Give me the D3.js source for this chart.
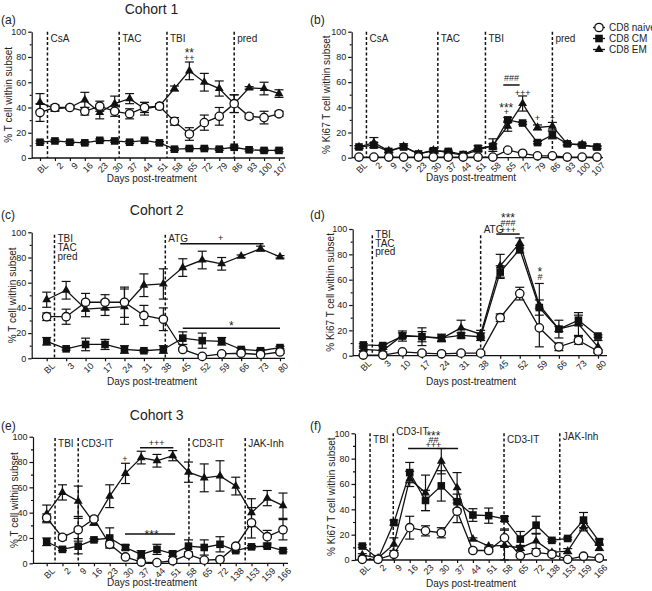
<!DOCTYPE html>
<html><head><meta charset="utf-8">
<script src="https://cdn.jsdelivr.net/npm/d3@7"></script>
<style>
body{margin:0;background:#fff}
text{font-family:"Liberation Sans",Arial,sans-serif;fill:#222}
</style>
</head><body>
<svg id="chart" width="652" height="591"></svg>
<script>
// ---------- DATA ----------
const catsCohort1 = ["BL","2","9","16","23","30","37","44","51","58","65","72","79","86","93","100","107"];
const catsCohort2 = ["BL","3","10","17","24","31","38","45","52","59","66","73","80"];
const catsCohort3 = ["BL","2","9","16","23","30","37","44","51","58","65","72","138","153","159","166"];
const seriesNames = ["CD8 naive","CD8 CM","CD8 EM"];

// (a) Cohort 1, % T cell
const naiveA    = [36,40,40,37,41,37,35,40,41,29,19,28,33,43,33,32,35];
const naiveErrA = [7,2,1,3,4,4,4,4,2,3,5,6,7,7,2,5,2];
const cmA       = [12.5,13.5,12.5,12,14,13.5,12.5,14,12,7,7.5,7.5,7,8.5,6.5,6,6];
const cmErrA    = [1,1,1,1,1,1,1,1,1,1,1,1,1,1,1,1,1];
const emA       = [44,39,40,46,36,43,47,39,41,55,69,60,55,43,55.5,55,51];
const emErrA    = [7,2,1,6,5,6,4,5,2,2,7,7,6,7,1,5,3];

// (b) Cohort 1, % Ki67
const naiveB    = [0.5,0.5,0.5,0.5,0.5,0.5,0.5,0.5,0.5,0.5,6,3.5,1.5,1.5,0.5,0.5,0.5];
const naiveErrB = [0.5,0.5,0.5,0.5,0.5,0.5,0.5,0.5,0.5,0.5,1,1,1,1,0.5,0.5,0.5];
const cmB       = [8.5,10,5,8.5,3,5.5,5,2.5,7.5,9,30,27.5,12,18,11,10,8.5];
const cmErrB    = [1,2,1,1,1,1,1,1,2,2,2,1,1,3,1,1,1];
const emB       = [8.5,12,5.5,9,3,6,4,2,6,10,25,43,24,25,11,10.5,8];
const emErrB    = [1,4,1,2,1,1,1,1,1,5,4,6,2,3,1,1,1];

// (c) Cohort 2, % T cell
const naiveC    = [33,33,44.5,44.5,44.5,34,31,7,1.5,3.5,4,3,5];
const naiveErrC = [3,6,7,6,12,8,9,1,1,1,1,1,1];
const cmC       = [13.5,7.5,11,11,7,6,7,16,14,13.5,7,6,8.5];
const cmErrC    = [3,1,5,4,3,1,3,5,6,3,1,1,1];
const emC       = [46.5,54,39,40,41,58,59,72,78,75,81,87,80.5];
const emErrC    = [6,7,6,6,14,9,12,7,7,5,1,2,1];

// (d) Cohort 2, % Ki67
const naiveD    = [0.5,0.5,3,2,1.5,2,2,30,49,22,7,12,3.5];
const naiveErrD = [0.5,0.5,1,1,1,1,1,3,5,15,3,3,1];
const cmD       = [8.5,8,15.5,15,14,16,15,66,84,38,21,28,15.5];
const cmErrD    = [1,1,4,7,3,2,3,5,3,6,7,4,1];
const emD       = [5,4,16,15,13.5,22,17,71,89,40,21,25,7];
const emErrD    = [1,1,2,4,2,6,3,9,4,17,2,9,5];

// (e) Cohort 3, % T cell
const naiveE    = [36,20.5,26.5,35,15,5,1,0.5,2,7,2.5,3,13.5,32,21,26.5];
const naiveErrE = [3,2,9,1,2,1,1,1,1,2,1,1,1,12,5,8];
const cmE       = [17,11,13.5,18.5,20,12.5,7,11,7.5,13.5,12.5,15,10,13,13.5,10];
const cmErrE    = [3,1,6,1,8,2,3,4,2,5,6,6,1,1,1,1];
const emE       = [39,56,49,32,53,71,83.5,81,85,72,67.5,69,61,40,51.5,45.5];
const emErrE    = [7,6,12,2,9,8,5,5,4,8,11,12,7,11,6,10];

// (f) Cohort 3, % Ki67
const naiveF    = [0.5,0.5,4.5,25.5,23,21.5,38.5,7.5,7.5,17.5,3.5,6,4.5,0.5,3,1.5];
const naiveErrF = [0.5,0.5,1,9,4,4,9,1,1,7,1,1,1,1,1,1];
const cmF       = [11,1,29.5,69,47,58.5,46,35.5,35,32.5,16.5,27.5,15.5,17,31.5,14.5];
const cmErrF    = [1,1,2,8,8,12,6,5,6,2,6,7,1,1,6,2];
const emF       = [4,1.5,12.5,64,53,78,57,16.5,11,11.5,9.5,15,6,7,26,9.5];
const emErrF    = [1,1,5,6,14,10,12,1,1,12,2,6,1,2,3,2];

// treatment markers: [category-index position, label lines]
const treatA = [[0.5,["CsA"]],[5.3,["TAC"]],[8.5,["TBI"]],[13,["pred"]]];
const treatC = [[0.4,["TBI","TAC","pred"]],[6.1,["ATG"]]];
const treatD = [[0.46,["TBI","TAC","pred"]],[6.0,["ATG"]]];
const treatE = [[0.53,["TBI"]],[2.0,["CD3-IT"]],[9.03,["CD3-IT"]],[12.6,["JAK-Inh"]]];
const treatF = [[0.49,["TBI"]],[1.96,["CD3-IT"]],[8.97,["CD3-IT"]],[12.5,["JAK-Inh"]]];

// significance bars: [fromIndex, toIndex, value]; marks: [index, value, text]
const sigBarsA = [];
const sigTextA = [[10,79.6,"**"],[10,77.1,"++"]];
const sigBarsB = [[9.7,10.8,57.7]];
const sigTextB = [[10.25,60.7,"###"],[9.9,36,"***"],[9.9,33.9,"+"],[11,49.3,"+++"],[12,29.4,"+"],[13,29.4,"+"]];
const sigBarsC = [[6.87,11.15,91],[7,12,23.8]];
const sigTextC = [[8.94,93.4,"+"],[9.5,22.3,"*"]];
const sigBarsD = [[6.8,8.0,96]];
const sigTextD = [[7.4,105.2,"***"],[7.4,102.1,"###"],[7.4,96.8,"+++"],[9.03,63.1,"*"],[9.03,59.5,"#"]];
const sigBarsE = [[5.92,8.04,91.3],[4.97,8.15,23.2]];
const sigTextE = [[6.98,92.9,"+++"],[4.97,79.7,"+"],[6.66,19.3,"***"]];
const sigBarsF = [[2.9,6.06,88]];
const sigTextF = [[4.5,95,"***"],[4.5,92.4,"##"],[4.5,88.5,"+++"]];

// ---------- DRAWING ----------
const svg = d3.select("#chart");
const INK = "#111";

function drawMarker(g, type, cx, cy) {
  if (type === 0) {
    g.append("circle").attr("cx",cx).attr("cy",cy).attr("r",4.2)
      .attr("fill","#fff").attr("stroke",INK).attr("stroke-width",1.3);
  } else if (type === 1) {
    g.append("rect").attr("x",cx-3.8).attr("y",cy-3.8).attr("width",7.6).attr("height",7.6).attr("fill",INK);
  } else {
    g.append("path").attr("d", d3.symbol().type(d3.symbolTriangle).size(34)())
      .attr("transform",`translate(${cx},${cy})`).attr("fill",INK);
  }
}

function drawPanel(cfg) {
  const g = svg.append("g");
  const n = cfg.cats.length;
  const x = d3.scaleLinear().domain([0,n-1]).range([cfg.x0,cfg.x1]);
  const y = d3.scaleLinear().domain([0,100]).range([cfg.yb,cfg.yt]);

  // y axis
  const yax = g.append("g").attr("transform",`translate(${cfg.axisX},0)`)
    .call(d3.axisLeft(y).tickValues([0,20,40,60,80,100]).tickSize(3.5).tickPadding(2).tickSizeOuter(0));
  yax.selectAll("text").style("font-size","9px");
  const ymin = g.append("g").attr("transform",`translate(${cfg.axisX},0)`)
    .call(d3.axisLeft(y).tickValues([10,30,50,70,90]).tickSize(2).tickFormat(""));
  ymin.select(".domain").remove();
  g.selectAll(".domain, .tick line").attr("stroke",INK).attr("stroke-width",1.2);

  // x axis
  const xax = g.append("g").attr("transform",`translate(0,${cfg.yb})`)
    .call(d3.axisBottom(x).tickValues(d3.range(n)).tickFormat(i=>cfg.cats[i]).tickSize(3).tickSizeOuter(0));
  xax.select(".domain").remove();
  xax.selectAll(".tick line").attr("stroke",INK).attr("stroke-width",1.2);
  xax.selectAll("text").style("font-size","9px").attr("text-anchor","end")
    .attr("transform","translate(3,3) rotate(-45)").attr("dy","0.6em").attr("y",2).attr("x",0);
  g.append("line").attr("x1",cfg.axisX).attr("x2",cfg.xEnd).attr("y1",cfg.yb).attr("y2",cfg.yb)
    .attr("stroke",INK).attr("stroke-width",1.3);

  // treatment lines
  cfg.treat.forEach(([pos,labels],k)=>{
    const px = x(pos);
    g.append("line").attr("x1",px).attr("x2",px).attr("y1",y(cfg.treatTop)).attr("y2",cfg.yb)
      .attr("stroke",INK).attr("stroke-width",1.5).attr("stroke-dasharray","3,2.2");
    const base = (cfg.labelY && cfg.labelY[k]!=null) ? cfg.labelY[k] : 92;
    labels.forEach((t,j)=>{
      g.append("text").attr("x",px+3).attr("y",y(base)+j*8.8).text(t).style("font-size","10px");
    });
  });

  // significance bars & text
  (cfg.sigBars||[]).forEach(([a,b,v])=>{
    g.append("line").attr("x1",x(a)).attr("x2",x(b)).attr("y1",y(v)).attr("y2",y(v))
      .attr("stroke",INK).attr("stroke-width",1.5);
  });
  (cfg.sigText||[]).forEach(([i,v,t])=>{
    const star = t.indexOf("*") >= 0;
    g.append("text").attr("x",x(i)).attr("y",y(v)).attr("text-anchor","middle")
      .text(t).style("font-size", star ? "12px" : "9px");
  });

  // series
  const series = cfg.series;
  const line = d3.line().x((v,i)=>x(i)).y(v=>y(v));
  series.forEach(s=>{
    g.append("path").attr("d",line(s.v)).attr("fill","none").attr("stroke",INK).attr("stroke-width",1.3);
  });
  series.forEach(s=>{
    s.v.forEach((v,i)=>{
      const e = s.e[i];
      if (e <= 0) return;
      const cx = x(i), y1 = y(v+e), y2 = y(Math.max(0,v-e));
      g.append("line").attr("x1",cx).attr("x2",cx).attr("y1",y1).attr("y2",y2).attr("stroke",INK).attr("stroke-width",1.2);
      g.append("line").attr("x1",cx-4.5).attr("x2",cx+4.5).attr("y1",y1).attr("y2",y1).attr("stroke",INK).attr("stroke-width",1.2);
      g.append("line").attr("x1",cx-4.5).attr("x2",cx+4.5).attr("y1",y2).attr("y2",y2).attr("stroke",INK).attr("stroke-width",1.2);
    });
  });
  [1,2,0].forEach(t=>{
    const s = series[t];
    s.v.forEach((v,i)=>drawMarker(g,t,x(i),y(v)));
  });

  // labels
  g.append("text").attr("transform",`translate(${cfg.ylabX},${(cfg.yt+cfg.yb)/2}) rotate(-90)`)
    .attr("text-anchor","middle").text(cfg.ylab).style("font-size","10px");
  g.append("text").attr("x",cfg.xlabX).attr("y",cfg.yb+cfg.xlabDy).attr("text-anchor","middle")
    .text("Days post-treatment").style("font-size","10px");
  g.append("text").attr("x",cfg.letterX).attr("y",cfg.letterY).text(cfg.letter).style("font-size","12px");
  if (cfg.title) {
    g.append("text").attr("x",cfg.titleX).attr("y",cfg.titleY).attr("text-anchor","middle")
      .text(cfg.title).style("font-size","14px");
  }
}

const YL1 = "% T cell within subset", YL2 = "% Ki67 T cell within subset";

drawPanel({cats:catsCohort1, axisX:31.7, x0:40, x1:279, xEnd:285, yt:31.7, yb:158, ylabX:12, ylab:YL1,
  xlabX:151.7, xlabDy:24, letter:"(a)", letterX:1, letterY:24, title:"Cohort 1", titleX:151.5, titleY:14,
  treat:treatA, treatTop:100, sigBars:sigBarsA, sigText:sigTextA,
  series:[{v:naiveA,e:naiveErrA},{v:cmA,e:cmErrA},{v:emA,e:emErrA}]});
drawPanel({cats:catsCohort1, axisX:351.7, x0:359, x1:597, xEnd:603, yt:31.7, yb:157.7, ylabX:330, ylab:YL2,
  xlabX:471, xlabDy:23.5, letter:"(b)", letterX:310, letterY:24,
  treat:treatA, treatTop:100, sigBars:sigBarsB, sigText:sigTextB,
  series:[{v:naiveB,e:naiveErrB},{v:cmB,e:cmErrB},{v:emB,e:emErrB}]});
drawPanel({cats:catsCohort2, axisX:31.7, x0:46.7, x1:280, xEnd:285, yt:232.3, yb:358.3, ylabX:16, ylab:YL1,
  xlabX:152, xlabDy:27, letter:"(c)", letterX:1, letterY:219, title:"Cohort 2", titleX:156.7, titleY:215,
  treat:treatC, treatTop:98, sigBars:sigBarsC, sigText:sigTextC,
  series:[{v:naiveC,e:naiveErrC},{v:cmC,e:cmErrC},{v:emC,e:emErrC}]});
drawPanel({cats:catsCohort2, axisX:352.7, x0:363.3, x1:598, xEnd:607, yt:229, yb:355.7, ylabX:334, ylab:YL2,
  xlabX:471, xlabDy:29, letter:"(d)", letterX:310, letterY:219,
  treat:treatD, treatTop:95, labelY:[93,97], sigBars:sigBarsD, sigText:sigTextD,
  series:[{v:naiveD,e:naiveErrD},{v:cmD,e:cmErrD},{v:emD,e:emErrD}]});
drawPanel({cats:catsCohort3, axisX:33, x0:46.7, x1:283, xEnd:288, yt:436.7, yb:563.3, ylabX:18, ylab:YL1,
  xlabX:152, xlabDy:23, letter:"(e)", letterX:1, letterY:430, title:"Cohort 3", titleX:156.7, titleY:420,
  treat:treatE, treatTop:99, sigBars:sigBarsE, sigText:sigTextE,
  series:[{v:naiveE,e:naiveErrE},{v:cmE,e:cmErrE},{v:emE,e:emErrE}]});
drawPanel({cats:catsCohort3, axisX:355, x0:362.3, x1:599.3, xEnd:607, yt:433.3, yb:560, ylabX:335, ylab:YL2,
  xlabX:471, xlabDy:27, letter:"(f)", letterX:310, letterY:430,
  treat:treatF, treatTop:100, labelY:[92,98.5,92,94.5], sigBars:sigBarsF, sigText:sigTextF,
  series:[{v:naiveF,e:naiveErrF},{v:cmF,e:cmErrF},{v:emF,e:emErrF}]});

// legend
const lg = svg.append("g");
seriesNames.forEach((nm,k)=>{
  const ly = 27.5 + k*11;
  lg.append("line").attr("x1",593).attr("x2",605).attr("y1",ly).attr("y2",ly).attr("stroke",INK).attr("stroke-width",1.3);
  drawMarker(lg,k,599,ly);
  lg.append("text").attr("x",609).attr("y",ly+3.5).text(nm).style("font-size","10px");
});
</script>
</body></html>
